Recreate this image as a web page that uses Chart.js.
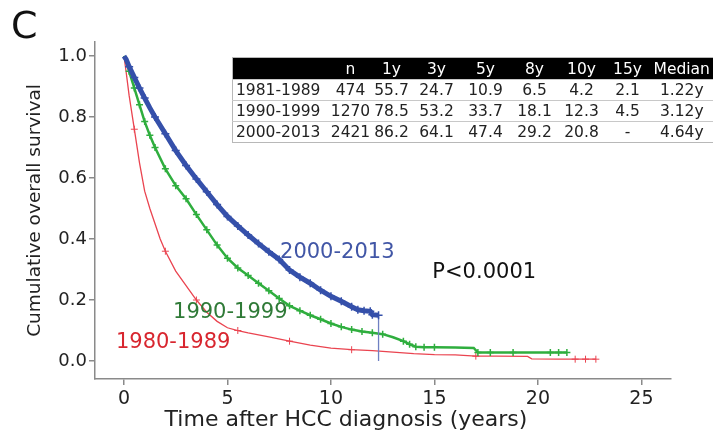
<!DOCTYPE html>
<html>
<head>
<meta charset="utf-8">
<script src="https://cdn.jsdelivr.net/npm/chart.js@4.4.1/dist/chart.umd.min.js"></script>
<style>
  body { margin: 0; background: #fff; }
  #wrap { position: relative; width: 713px; height: 435px; }
  #survTable {
    position: absolute; left: 232px; top: 57px; width: 481px;
    border-collapse: collapse; table-layout: fixed;
    font-family: "DejaVu Sans", sans-serif; font-size: 15.5px; color: #222;
    border: 1px solid #b8b8b8;
  }
  #survTable th { background: #000; color: #fff; font-weight: normal; height: 21px; padding: 0; text-align: center; white-space: nowrap; }
  #survTable td { height: 20px; padding: 0; text-align: center; border-top: 1px solid #c8c8c8; white-space: nowrap; }
  #survTable td:first-child { text-align: left; padding-left: 3px; }
</style>
</head>
<body>
<div id="wrap">
  <canvas id="kmChart" width="713" height="435"></canvas>
  <table id="survTable"></table>
</div>
<script>
// axis ticks
const xTicks = [0, 5, 10, 15, 20, 25];
const yTicks = [0, 0.2, 0.4, 0.6, 0.8, 1.0];

// 1980-1989 (red)
const redTime = [0, 0.1, 0.25, 0.5, 0.75, 1, 1.25, 1.5, 1.75, 2, 2.5, 3, 3.5, 4, 4.5, 5, 5.5, 6, 7, 8, 9, 10, 11, 12, 13, 14, 15, 16, 17, 18, 19.5, 19.7, 21, 21.8, 22.3, 22.8];
const redSurv = [1, 0.95, 0.87, 0.76, 0.65, 0.557, 0.5, 0.45, 0.4, 0.36, 0.295, 0.247, 0.2, 0.16, 0.13, 0.109, 0.1, 0.092, 0.079, 0.065, 0.052, 0.042, 0.037, 0.034, 0.029, 0.024, 0.021, 0.02, 0.016, 0.016, 0.015, 0.007, 0.006, 0.006, 0.006, 0.006];
const redCensor = [0.5, 2, 3.5, 5.5, 8, 11, 17, 21.8, 22.3, 22.8];

// 1990-1999 (green)
const greenTime = [0, 0.1, 0.25, 0.5, 0.75, 1, 1.25, 1.5, 2, 2.5, 3, 3.5, 4, 4.5, 5, 5.5, 6, 6.5, 7, 7.5, 8, 8.5, 9, 9.5, 10, 10.5, 11, 11.5, 12, 12.5, 13, 13.5, 13.8, 14.1, 14.5, 15, 16, 16.9, 17.1, 17.7, 18.8, 20.6, 21, 21.4];
const greenSurv = [1, 0.985, 0.95, 0.895, 0.84, 0.785, 0.74, 0.7, 0.63, 0.575, 0.532, 0.48, 0.43, 0.38, 0.337, 0.305, 0.28, 0.255, 0.23, 0.205, 0.181, 0.165, 0.15, 0.137, 0.123, 0.112, 0.103, 0.097, 0.093, 0.088, 0.078, 0.065, 0.055, 0.047, 0.045, 0.045, 0.044, 0.043, 0.028, 0.028, 0.028, 0.028, 0.028, 0.028];
const greenCensor = [0.25, 0.5, 0.75, 1, 1.25, 1.5, 2, 2.5, 3, 3.5, 4, 4.5, 5, 5.5, 6, 6.5, 7, 7.5, 8, 8.5, 9, 9.5, 10, 10.5, 11, 11.5, 12, 12.5, 13.5, 13.8, 14.1, 14.5, 15, 17.1, 17.7, 18.8, 20.6, 21, 21.4];

// 2000-2013 (blue)
const blueTime = [0, 0.1, 0.25, 0.5, 0.75, 1, 1.25, 1.5, 2, 2.5, 3, 3.5, 4, 4.5, 5, 5.5, 6, 6.5, 7, 7.5, 8, 8.5, 9, 9.5, 10, 10.5, 11, 11.3, 11.6, 11.9, 12, 12.3];
const blueSurv = [1, 0.99, 0.965, 0.93, 0.895, 0.862, 0.83, 0.8, 0.745, 0.69, 0.641, 0.597, 0.555, 0.513, 0.474, 0.443, 0.413, 0.385, 0.358, 0.333, 0.298, 0.275, 0.255, 0.232, 0.212, 0.196, 0.178, 0.168, 0.165, 0.163, 0.152, 0.15];
const blueCensor = [0.25, 0.5, 0.75, 1, 1.5, 2, 2.5, 3, 3.5, 4, 4.5, 5, 5.5, 6, 6.5, 7, 7.5, 8, 8.5, 9, 9.5, 10, 10.5, 11, 11.3, 11.6, 11.9, 12, 12.3];
const blueDropTo = 0;

// survival table
const tablePeriods = ['1981-1989', '1990-1999', '2000-2013'];
const tableN = [474, 1270, 2421];
const tableCols = ['1y', '3y', '5y', '8y', '10y', '15y'];
const rate1981 = ['55.7', '24.7', '10.9', '6.5', '4.2', '2.1'];
const rate1990 = ['78.5', '53.2', '33.7', '18.1', '12.3', '4.5'];
const rate2000 = ['86.2', '64.1', '47.4', '29.2', '20.8', '-'];
const tableMedian = ['1.22y', '3.12y', '4.64y'];

const colWidths = [98, 40, 42, 48, 50, 48, 46, 46, 63];
const tbl = document.getElementById('survTable');
let html = '<colgroup>' + colWidths.map(w => `<col style="width:${w}px">`).join('') + '</colgroup>';
html += '<tr><th></th><th>n</th>' + tableCols.map(c => `<th>${c}</th>`).join('') + '<th>Median</th></tr>';
[rate1981, rate1990, rate2000].forEach((rates, i) => {
  html += `<tr><td>${tablePeriods[i]}</td><td>${tableN[i]}</td>` +
    rates.map(r => `<td>${r}</td>`).join('') + `<td>${tableMedian[i]}</td></tr>`;
});
tbl.innerHTML = html;

function toPoints(time, surv) {
  return time.map((t, i) => ({ x: t, y: surv[i] }));
}
function censorRadius(time, censor, r) {
  return ctx => censor.includes(time[ctx.dataIndex]) ? r : 0;
}

const FONT = '"DejaVu Sans", sans-serif';

const curveLabels = [
  { text: '2000-2013', t: 7.54, v: 0.354, color: '#4156a6' },
  { text: '1990-1999', t: 2.37, v: 0.16, color: '#2f7a37' },
  { text: '1980-1989', t: -0.39, v: 0.062, color: '#d8262f' },
  { text: 'P<0.0001', t: 14.9, v: 0.29, color: '#111' }
];

const textPlugin = {
  id: 'texts',
  afterDraw(chart) {
    const { ctx } = chart;
    const x = chart.scales.x, y = chart.scales.y;
    ctx.save();
    ctx.fillStyle = '#111';
    ctx.font = '38px ' + FONT;
    ctx.textAlign = 'left';
    ctx.textBaseline = 'alphabetic';
    ctx.fillText('C', 11, 38);

    ctx.font = '22px ' + FONT;
    ctx.fillStyle = '#222';
    ctx.textAlign = 'center';
    ctx.textBaseline = 'middle';
    ctx.fillText('Time after HCC diagnosis (years)', 346, 420);

    ctx.font = '21px ' + FONT;
    ctx.textAlign = 'left';
    curveLabels.forEach(l => {
      ctx.fillStyle = l.color;
      ctx.fillText(l.text, x.getPixelForValue(l.t), y.getPixelForValue(l.v));
    });
    ctx.restore();
  }
};

const lastT = blueTime[blueTime.length - 1];
const lastS = blueSurv[blueSurv.length - 1];

new Chart(document.getElementById('kmChart'), {
  type: 'scatter',
  data: {
    datasets: [
      {
        label: '2000-2013',
        data: toPoints(blueTime, blueSurv),
        showLine: true,
        borderColor: '#3550aa',
        borderWidth: 5,
        pointStyle: 'cross',
        pointRadius: censorRadius(blueTime, blueCensor, 4),
        pointBorderColor: '#3550aa',
        pointBorderWidth: 1.5,
        pointHoverRadius: 0,
        order: 0
      },
      {
        label: 'drop',
        data: [{ x: lastT, y: lastS }, { x: lastT, y: blueDropTo }],
        showLine: true,
        borderColor: '#6f80c2',
        borderWidth: 1.3,
        pointRadius: 0,
        order: 1
      },
      {
        label: '1990-1999',
        data: toPoints(greenTime, greenSurv),
        showLine: true,
        borderColor: '#2fae3e',
        borderWidth: 2.5,
        pointStyle: 'cross',
        pointRadius: censorRadius(greenTime, greenCensor, 3.5),
        pointBorderColor: '#2fae3e',
        pointBorderWidth: 1.5,
        pointHoverRadius: 0,
        order: 2
      },
      {
        label: '1980-1989',
        data: toPoints(redTime, redSurv),
        showLine: true,
        borderColor: '#ea4450',
        borderWidth: 1.3,
        pointStyle: 'cross',
        pointRadius: censorRadius(redTime, redCensor, 3.5),
        pointBorderColor: '#ea4450',
        pointBorderWidth: 1,
        pointHoverRadius: 0,
        order: 3
      }
    ]
  },
  options: {
    responsive: false,
    animation: false,
    devicePixelRatio: 1,
    layout: { padding: { left: 0, top: 42, right: 42, bottom: 0 } },
    plugins: { legend: { display: false }, tooltip: { enabled: false } },
    scales: {
      x: {
        type: 'linear',
        min: -1.4,
        max: 26.43,
        afterFit: s => { s.height = 56; },
        afterBuildTicks: s => { s.ticks = xTicks.map(v => ({ value: v })); },
        border: { display: true, color: '#8a8a8a', width: 1.5 },
        grid: { drawOnChartArea: false, drawTicks: true, tickLength: 6, color: '#8a8a8a', lineWidth: 1.5 },
        ticks: { color: '#222', font: { family: FONT, size: 19 }, padding: 3, maxRotation: 0 }
      },
      y: {
        type: 'linear',
        min: -0.059,
        max: 1.046,
        afterFit: s => { s.width = 95; },
        afterBuildTicks: s => { s.ticks = yTicks.map(v => ({ value: v })); },
        border: { display: true, color: '#8a8a8a', width: 1.5 },
        grid: { drawOnChartArea: false, drawTicks: true, tickLength: 6, color: '#8a8a8a', lineWidth: 1.5 },
        ticks: { color: '#222', font: { family: FONT, size: 18 }, padding: 2, callback: v => v.toFixed(1) },
        title: {
          display: true,
          text: 'Cumulative overall survival',
          color: '#222',
          font: { family: FONT, size: 18.5 },
          padding: { top: 24, bottom: 0 }
        }
      }
    }
  },
  plugins: [textPlugin]
});
</script>
</body>
</html>
